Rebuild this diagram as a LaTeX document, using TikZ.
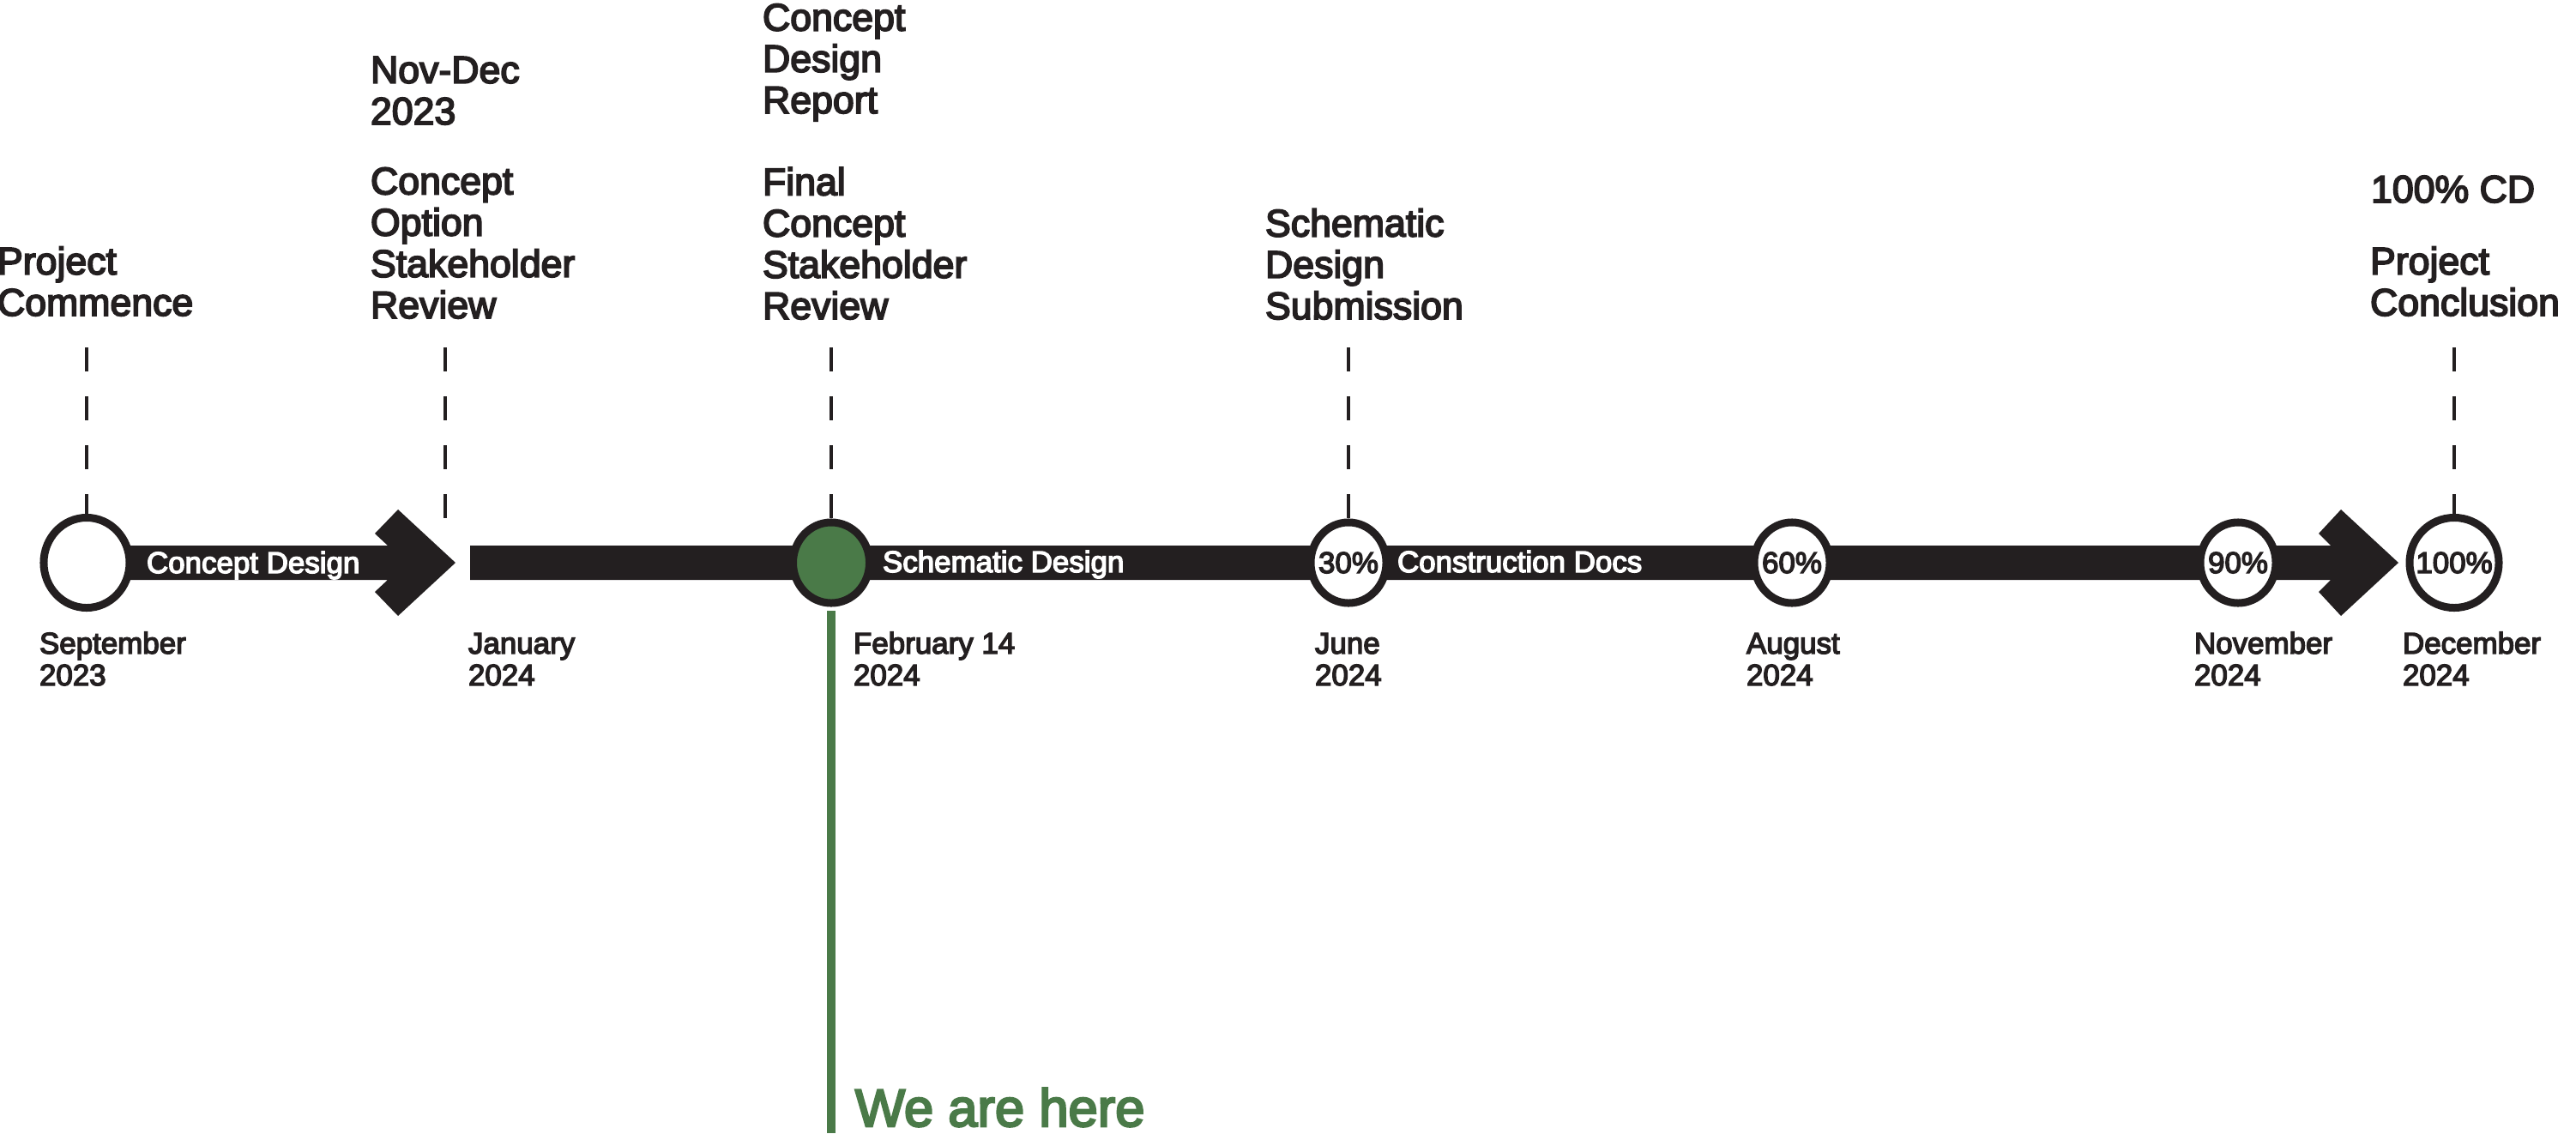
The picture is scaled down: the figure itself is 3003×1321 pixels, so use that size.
\documentclass[tikz,border=0pt]{standalone}
\usepackage{fontspec}
\usetikzlibrary{shapes.geometric}
\newfontfamily\labfont{Liberation Sans}[FakeBold=4]
\definecolor{ink}{RGB}{35,31,32}
\definecolor{herecol}{RGB}{74,122,72}
\begin{document}
\begin{tikzpicture}[x=0.01cm,y=-0.01cm,
  toplab/.style={anchor=base west,inner sep=0pt,outer sep=0pt,align=left,text=ink,
    font=\labfont\fontsize{12.7pt}{13.7pt}\selectfont},
  datelab/.style={anchor=base west,inner sep=0pt,outer sep=0pt,align=left,text=ink,
    font=\labfont\fontsize{9.93pt}{10.53pt}\selectfont},
  barlab/.style={anchor=base west,inner sep=0pt,outer sep=0pt,text=white,
    font=\labfont\fontsize{9.93pt}{10.53pt}\selectfont},
  pcttext/.style={anchor=center,inner sep=0pt,outer sep=0pt,text=ink,
    font=\labfont\fontsize{9.93pt}{10.53pt}\selectfont},
  bigdot/.style={ellipse,draw=ink,fill=white,line width=0.09cm,inner sep=0pt,
    minimum width=1.02cm,minimum height=1.05cm},
  smalldot/.style={ellipse,draw=ink,fill=white,line width=0.09cm,inner sep=0pt,
    minimum width=0.88cm,minimum height=0.94cm},
  guide/.style={draw=ink,line width=0.045cm,dash pattern=on 0.28cm off 0.29cm},
  barfill/.style={fill=ink},
]
\fill[white] (0,0) rectangle (3003,1321);
\useasboundingbox (0,0) rectangle (3003,1321);

% --- bar segment 1 with arrowhead
\coordinate (tipA) at (531,656);
\fill[barfill] (101,636) -- (452,636) -- (437,622) -- (464,594) -- (tipA)
  -- (464,718) -- (437,690) -- (452,676) -- (101,676) -- cycle;
% --- bar segment 2 with arrowhead
\coordinate (tipB) at (2796,656);
\fill[barfill] (548,636) -- (2717,636) -- (2703,622) -- (2729,594) -- (tipB)
  -- (2729,718) -- (2703,690) -- (2717,676) -- (548,676) -- cycle;

% --- milestone circles
\node[bigdot,minimum width=1.00cm] (start) at (101,656) {};
\node[smalldot,fill=herecol,minimum width=0.89cm] (now) at (969,656) {};
\node[smalldot] (c30) at (1572,656) {};
\node[smalldot] (c60) at (2089,656) {};
\node[smalldot] (c90) at (2609,656) {};
\node[bigdot,minimum width=1.04cm] (c100) at (2861,656) {};

\node[pcttext] (t30) at (c30.center) {30\%};
\node[pcttext] (t60) at (c60.center) {60\%};
\node[pcttext] (t90) at (c90.center) {90\%};
\node[pcttext] (t100) at (c100.center) {100\%};

% --- bar labels
\node[barlab] (lcd) at (171,668) {Concept Design};
\node[barlab] (lsd) at (1029,667) {Schematic Design};
\node[barlab] (lcn) at (1629,667) {Construction Docs};

% --- dashed guides
\coordinate (gA) at (101,405);
\coordinate (gB1) at (519,405);
\coordinate (gB2) at (519,604);
\coordinate (gC) at (969,405);
\coordinate (gD) at (1572,405);
\coordinate (gE) at (2861,405);
\draw[guide] (gA) -- (start.north);
\draw[guide] (gB1) -- (gB2);
\draw[guide] (gC) -- (now.north);
\draw[guide] (gD) -- (c30.north);
\draw[guide] (gE) -- (c100.north);

% --- we are here
\coordinate (hereend) at (969,1321);
\draw[herecol,line width=0.1cm,shorten <=0.045cm] (now.south) -- (hereend);
\node[anchor=base west,inner sep=0pt,outer sep=0pt,text=herecol,
  font=\labfont\fontsize{17.5pt}{18pt}\selectfont] (here) at (997,1313) {We are here};

% --- top labels (anchored at the baseline of the last line)
\node[toplab] (pc) at (-3,368) {Project\\Commence};
\node[toplab] (nd) at (432,145) {Nov-Dec\\2023};
\node[toplab] (cosr) at (432,371) {Concept\\Option\\Stakeholder\\Review};
\node[toplab] (cdr) at (889,132) {Concept\\Design\\Report};
\node[toplab] (fcsr) at (889,372) {Final\\Concept\\Stakeholder\\Review};
\node[toplab] (sds) at (1475,372) {Schematic\\Design\\Submission};
\node[toplab] (cd100) at (2764,236) {100\% CD};
\node[toplab] (pcon) at (2763,368) {Project\\Conclusion};

% --- date labels
\node[datelab] (d1) at (46,799) {September\\2023};
\node[datelab] (d2) at (546,799) {January\\2024};
\node[datelab] (d3) at (995,799) {February 14\\2024};
\node[datelab] (d4) at (1533,799) {June\\2024};
\node[datelab] (d5) at (2036,799) {August\\2024};
\node[datelab] (d6) at (2558,799) {November\\2024};
\node[datelab] (d7) at (2801,799) {December\\2024};
\end{tikzpicture}
\end{document}
